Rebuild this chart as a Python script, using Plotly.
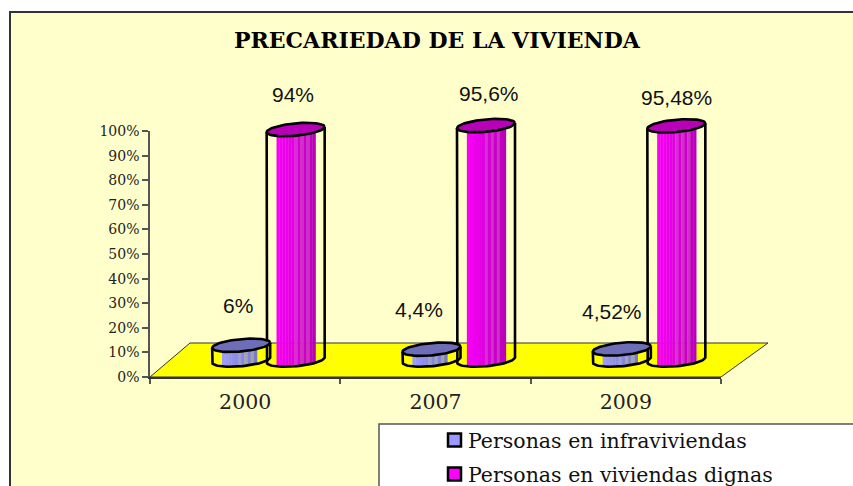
import numpy as np
import plotly.graph_objects as go

# ---- data ----
categories = ["2000", "2007", "2009"]
infra_values = [6, 4.4, 4.52]
dignas_values = [94, 95.6, 95.48]
infra_labels = ["6%", "4,4%", "4,52%"]
dignas_labels = ["94%", "95,6%", "95,48%"]
infra_name = "Personas en infraviviendas"
dignas_name = "Personas en viviendas dignas"
y_ticks = [0, 10, 20, 30, 40, 50, 60, 70, 80, 90, 100]
y_tick_labels = ["0%", "10%", "20%", "30%", "40%", "50%", "60%", "70%", "80%", "90%", "100%"]
title_text = "PRECARIEDAD DE LA VIVIENDA"

# ---- layout constants ----
W, H = 853, 486
AX_L, AX_R, AX_T, AX_B = 150, 721, 131, 377
OV_R, OV_T = 785, 100
CAT_PX = (AX_R - AX_L) / 3
BASE_PX = 360
PX_PER_UNIT = 2.452
A_PX, B_PX, TILT_PX = 29, 6.2, 2.6
DEPTH_X, DEPTH_Y = 47, 34

big_colors = ["#F600F6", "#F200F2", "#EE00EE", "#EA00EA", "#E600E6", "#E000E0", "#D82CD8",
              "#D400D4", "#D030C8", "#CA00CA", "#CC30C4", "#C000C0", "#B800B8"]
small_colors = ["#9C9CF8", "#9898F4", "#9494F0", "#9090EC", "#8C8CE8", "#9C9CD8",
                "#8686DC", "#A0A0C4", "#8282D0", "#A0A0B8", "#7C7CC4"]

dx = lambda px: px / CAT_PX
dv = lambda px: px / PX_PER_UNIT
px2c = lambda px: (px - AX_L) / CAT_PX - 0.5
px2v = lambda px: (BASE_PX - px) / PX_PER_UNIT

fig = go.Figure()


def strips(centers, values, colors, lo_px, hi_px):
    n = len(colors)
    w = (hi_px - lo_px) / n
    xs, bases, sizes, cols = [], [], [], []
    for c, v in zip(centers, values):
        for j, col in enumerate(colors):
            off = lo_px + (j + 0.5) * w
            u = off / A_PX
            b = -dv(B_PX) * np.sqrt(1 - u * u) + dv(TILT_PX) * u
            xs.append(c + dx(off)); bases.append(b); sizes.append(v - b); cols.append(col)
    fig.add_trace(go.Bar(x=xs, y=sizes, base=bases, width=dx(w + 0.3),
                         marker=dict(color=cols, line_width=0), xaxis="x2", yaxis="y2",
                         showlegend=False, cliponaxis=False, hoverinfo="skip"))


def cylinder(c, v, top_color):
    a, b, t = dx(A_PX), dv(B_PX), dv(TILT_PX)
    th = np.linspace(np.pi, 2 * np.pi, 40)
    fx = [c - a] + list(c + a * np.cos(th)) + [c + a]
    fy = [v - t] + list(t * np.cos(th) + b * np.sin(th)) + [v + t]
    fig.add_trace(go.Scatter(x=fx, y=fy, mode="lines", line=dict(color="#000", width=2.6),
                             xaxis="x2", yaxis="y2", showlegend=False, hoverinfo="skip", cliponaxis=False))
    th = np.linspace(0, 2 * np.pi, 70)
    fig.add_trace(go.Scatter(x=c + a * np.cos(th), y=v + t * np.cos(th) + b * np.sin(th),
                             mode="lines", fill="toself", fillcolor=top_color,
                             line=dict(color="#000", width=2.6),
                             xaxis="x2", yaxis="y2", showlegend=False, hoverinfo="skip", cliponaxis=False))


idx = np.arange(len(categories))
big_c = idx + dx(50.5)
small_c = idx - dx(4)
strips(big_c, dignas_values, big_colors, -19, 20)
strips(small_c, infra_values, small_colors, -19, 16)
for c, v in zip(big_c, dignas_values):
    cylinder(c, v, "#B800B8")
for c, v in zip(small_c, infra_values):
    cylinder(c, v, "#6E6EB8")

# dummy trace so the tick axes are drawn (main subplot)
fig.add_trace(go.Scatter(x=idx, y=[None] * 3, xaxis="x", yaxis="y", showlegend=False, hoverinfo="skip"))

# data labels (offsets in pixels from the top of each cylinder)
label_font = dict(family="Liberation Sans", size=21, color="#111")
big_shift = [(-3, 35.5), (3, 32.5), (0, 28.5)]
small_shift = [(-3, 40), (-13, 40), (-10, 37.5)]
ann = []
for c, v, t, s in zip(big_c, dignas_values, dignas_labels, big_shift):
    ann.append(dict(x=c, y=v, xref="x2", yref="y2", text=t, showarrow=False, xshift=s[0], yshift=s[1],
                    yanchor="middle", font=label_font))
for c, v, t, s in zip(small_c, infra_values, infra_labels, small_shift):
    ann.append(dict(x=c, y=v, xref="x2", yref="y2", text=t, showarrow=False, xshift=s[0], yshift=s[1],
                    yanchor="middle", font=label_font))
ann.append(dict(x=437 / W, y=1 - 40 / H, xref="paper", yref="paper", text="<b>%s</b>" % title_text, showarrow=False,
                yanchor="middle", font=dict(family="DejaVu Serif", size=22, color="#000")))

shapes = [
    dict(type="rect", xref="paper", yref="paper", x0=10 / W, x1=1.02, y0=-0.02, y1=1 - 12 / H, layer="below",
         fillcolor="#FFFFCC", line=dict(color="#333", width=2)),
    dict(type="rect", xref="paper", yref="paper", x0=379 / W, x1=1.02, y0=-0.02, y1=1 - 424 / H, layer="below",
         fillcolor="#FFFFFF", line=dict(color="#555", width=1.5)),
    dict(type="path", xref="x2", yref="y2", layer="below", fillcolor="#FFFF00", line=dict(color="#333", width=1),
         path="M {} {} L {} {} L {} {} L {} {} Z".format(
             px2c(AX_L), px2v(AX_B), px2c(AX_L + DEPTH_X - 7), px2v(AX_B - DEPTH_Y),
             px2c(AX_R + DEPTH_X), px2v(AX_B - DEPTH_Y), px2c(AX_R), px2v(AX_B))),
]

# legend built from swatches and real text
legend_rows = [(infra_name, "#9999FF", 440), (dignas_name, "#FF00FF", 474)]
for name, col, yc in legend_rows:
    shapes.append(dict(type="rect", xref="paper", yref="paper", x0=448 / W, x1=461 / W,
                       y0=1 - (yc + 6.5) / H, y1=1 - (yc - 6.5) / H, fillcolor=col, line=dict(color="#000", width=2.5)))
    ann.append(dict(x=466 / W, y=1 - (yc + 1) / H, xref="paper", yref="paper", xanchor="left", yanchor="middle",
                    text=name, showarrow=False, font=dict(family="DejaVu Serif", size=20.5, color="#111")))

axis_line = dict(showline=True, linecolor="#555", linewidth=1.5, showgrid=False, zeroline=False,
                 ticks="outside", tickcolor="#555", tickwidth=1.5)
fig.update_layout(
    width=W, height=H, margin=dict(l=0, r=0, t=0, b=0, autoexpand=False), paper_bgcolor="#FFFFFF",
    plot_bgcolor="rgba(0,0,0,0)", barmode="overlay", shapes=shapes, annotations=ann, showlegend=False,
    xaxis=dict(domain=[AX_L / W, AX_R / W], range=[-0.5, 2.5], tickvals=list(idx), ticktext=categories, automargin=False,
               showline=True, linecolor="#333", linewidth=1.5, showgrid=False, zeroline=False, ticks="", ticklen=0,
               minor=dict(tickvals=[-0.5, 0.5, 1.5, 2.5], ticks="outside", ticklen=5, tickcolor="#555", tickwidth=1.5, showgrid=False),
               tickfont=dict(family="DejaVu Serif", size=20.5, color="#222"), anchor="y", ticklabelstandoff=6),
    yaxis=dict(domain=[1 - AX_B / H, 1 - AX_T / H], range=[0, 100], tickvals=y_ticks, ticktext=y_tick_labels, automargin=False,
               ticklen=6, tickfont=dict(family="DejaVu Serif", size=14, color="#222"), anchor="x", **axis_line),
    xaxis2=dict(domain=[AX_L / W, OV_R / W], range=[-0.5, px2c(OV_R)], visible=False, anchor="y2", automargin=False),
    yaxis2=dict(domain=[1 - AX_B / H, 1 - OV_T / H], range=[px2v(AX_B), px2v(OV_T)], visible=False, anchor="x2", automargin=False),
)

fig.write_html("out.html", post_script="document.body.style.margin='0';", config=dict(displayModeBar=False))
